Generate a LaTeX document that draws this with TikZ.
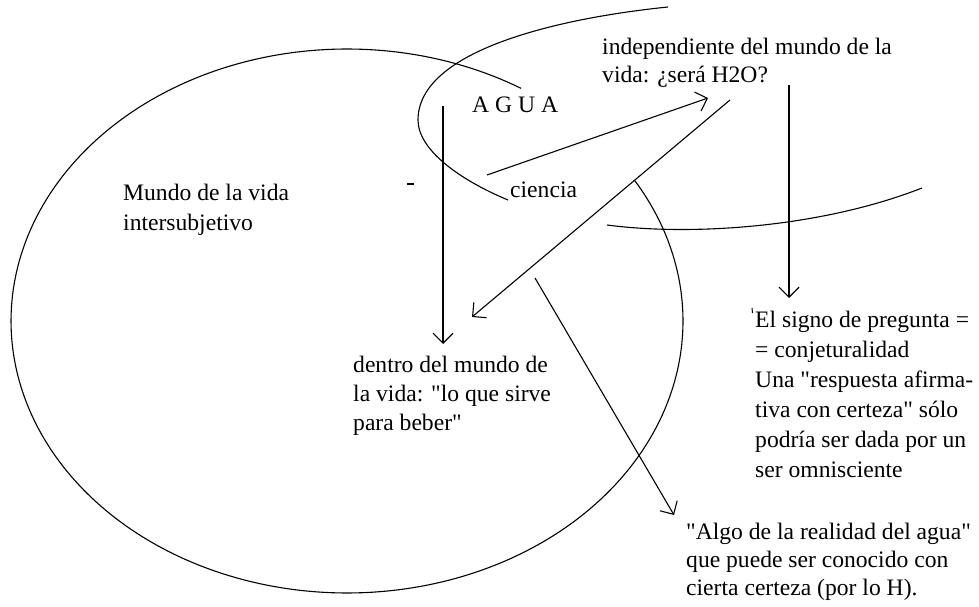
\documentclass[tikz,border=0pt]{standalone}
\usepackage{fontspec}
\setmainfont{Liberation Serif}[Ligatures=TeXOff]
\usetikzlibrary{arrows.meta}
\newcommand\fstrut{\rule{0pt}{17pt}}
\begin{document}
\begin{tikzpicture}[x=1pt,y=-1pt,
  ln/.style={line width=1.1pt, black},
  arr/.style={ln, -{Straight Barb[length=10pt,width=20pt,line width=1.1pt]}},
  txt/.style={font=\fontsize{23.6}{#1}\selectfont, inner sep=0pt, align=left, anchor=north west},
  txt/.default=29,
  txtone/.style={font=\fontsize{23.6}{28}\selectfont, inner sep=0pt, anchor=base west}]
\useasboundingbox (0,0) rectangle (979,607);
\fill[white] (0,0) rectangle (979,607);

% big ellipse (Mundo de la vida), open arc
\draw[ln] plot[domain=58.8:391.2, samples=240, variable=\t] ({347+336*cos(\t)}, {321-272*sin(\t)});

% ciencia curve, upper-left part
\draw[ln] (668,7) .. controls (560,18) and (418,50) .. (418,120)
                  .. controls (418,150) and (460,180) .. (508,200);
% ciencia curve, lower part
\draw[ln] (607,225) .. controls (690,236) and (820,228) .. (922,188);

% texts
\node[txt=28] (indep) at (602,37) {\fstrut independiente del mundo de la\\vida: ¿será H2O?};
\node[txtone] (agua) at (472,113) {A G U A};
\node[txtone] (ciencia) at (510,197) {ciencia};
\node[txt=30] (mundo) at (123,183) {\fstrut Mundo de la vida\\intersubjetivo};
\node[txt=29] (dentro) at (353,355) {\fstrut dentro del mundo de\\la vida: "lo que sirve\\para beber"};
\node[txt=30] (signo) at (755,310) {\fstrut El signo de pregunta =\\= conjeturalidad\\Una "respuesta afirma-\\tiva con certeza" sólo\\podría ser dada por un\\ser omnisciente};
\node[txt=28] (algo) at (686,522) {\fstrut "Algo de la realidad del agua"\\que puede ser conocido con\\cierta certeza (por lo H).};

% arrow end points
\coordinate (a1s) at (443,106);
\coordinate (a1e) at (443,344);
\coordinate (a2s) at (487,175);
\coordinate (a2e) at (708,98);
\coordinate (a3s) at (730,100);
\coordinate (a3e) at (472,317);
\coordinate (a4s) at (789,85);
\coordinate (a4e) at (789,298);
\coordinate (a5s) at (535,278);
\coordinate (a5e) at (674,515);

\draw[arr] (a1s) -- (a1e);
\draw[arr] (a2s) -- (a2e);
\draw[arr] (a3s) -- (a3e);
\draw[arr] (a4s) -- (a4e);
\draw[arr] (a5s) -- (a5e);

% small stray marks
\coordinate (d1) at (407,184);
\coordinate (d2) at (414,184);
\draw[line width=2pt] (d1) -- (d2);
\coordinate (k1) at (752,308);
\coordinate (k2) at (752.5,313);
\draw[line width=1pt] (k1) -- (k2);
\end{tikzpicture}
\end{document}
